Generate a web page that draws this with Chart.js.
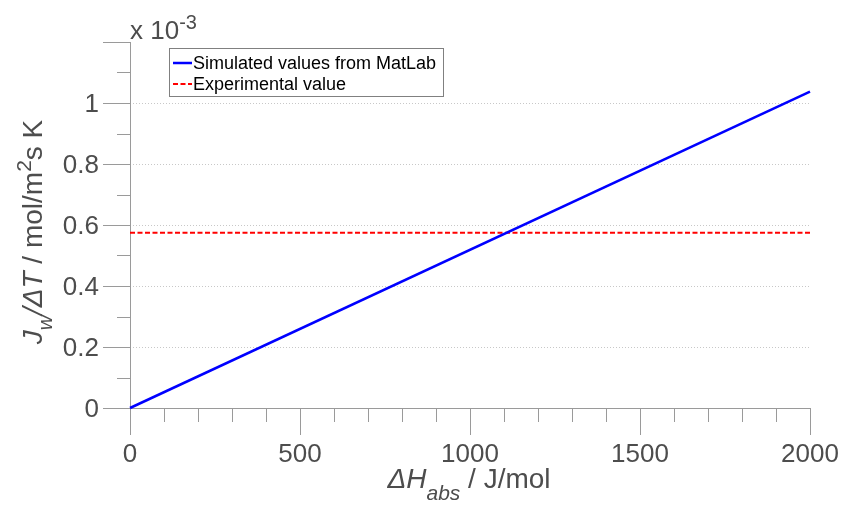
<!DOCTYPE html>
<html>
<head>
<meta charset="utf-8">
<script src="https://cdn.jsdelivr.net/npm/chart.js@4/dist/chart.umd.min.js"></script>
<style>
  html, body { margin: 0; padding: 0; background: #fff; }
  #wrap { width: 843px; height: 505px; }
</style>
</head>
<body>
<div id="wrap"><canvas id="chart" width="843" height="505"></canvas></div>
<script>
// data (y values are in units of 1e-3 mol/m2 s K)
var xValues = [0, 2000];
var simulated = [0, 1.037];
var experimental = [0.575, 0.575];
var xTicks = [0, 500, 1000, 1500, 2000];
var yTicks = [0, 0.2, 0.4, 0.6, 0.8, 1];
var xMinorStep = 100;
var yMinorStep = 0.1;

var FONT = '"Liberation Sans", Arial, sans-serif';
var LABEL_COLOR = '#4d4d4d';
var AXIS_COLOR = '#9a9a9a';

function points(ys) {
    return xValues.map(function(x, i) { return { x: x, y: ys[i] }; });
}

// draw a list of text runs [text, font, dy] starting at x
function drawRuns(ctx, runs, x, y) {
    runs.forEach(function(r) {
        ctx.font = r[1];
        ctx.fillText(r[0], x, y + r[2]);
        x += ctx.measureText(r[0]).width;
    });
}
function runsWidth(ctx, runs) {
    var w = 0;
    runs.forEach(function(r) { ctx.font = r[1]; w += ctx.measureText(r[0]).width; });
    return w;
}

var axesPlugin = {
    id: 'matlabAxes',
    beforeDatasetsDraw: function(chart) {
        var ctx = chart.ctx, a = chart.chartArea;
        var xs = chart.scales.x, ys = chart.scales.y;
        ctx.save();
        ctx.strokeStyle = AXIS_COLOR;
        ctx.lineWidth = 1;
        ctx.beginPath();
        ctx.moveTo(a.left + 0.5, a.top);
        ctx.lineTo(a.left + 0.5, a.bottom + 0.5);
        ctx.lineTo(a.right, a.bottom + 0.5);
        ctx.stroke();

        // x ticks (major + minor), pointing outwards
        for (var v = xs.min; v <= xs.max + 1e-9; v += xMinorStep) {
            var px = Math.round(xs.getPixelForValue(v)) + 0.5;
            var major = xTicks.indexOf(v) >= 0;
            ctx.beginPath();
            ctx.moveTo(px, a.bottom);
            ctx.lineTo(px, a.bottom + (major ? 27 : 14));
            ctx.stroke();
        }
        // y ticks
        for (var k = 0; k * yMinorStep <= ys.max + 1e-9; k++) {
            var val = k * yMinorStep;
            var py = Math.round(ys.getPixelForValue(val)) + 0.5;
            var isMajor = k % 2 === 0;
            ctx.beginPath();
            ctx.moveTo(a.left, py);
            ctx.lineTo(a.left - (isMajor ? 27 : 13), py);
            ctx.stroke();
        }
        ctx.restore();
    },
    afterDraw: function(chart) {
        var ctx = chart.ctx, a = chart.chartArea;
        var xs = chart.scales.x, ys = chart.scales.y;
        ctx.save();
        ctx.fillStyle = LABEL_COLOR;
        ctx.font = '26px ' + FONT;

        // tick labels
        ctx.textAlign = 'center';
        ctx.textBaseline = 'alphabetic';
        xTicks.forEach(function(v) {
            ctx.fillText(String(v), xs.getPixelForValue(v), 462);
        });
        ctx.textAlign = 'right';
        yTicks.forEach(function(v) {
            ctx.fillText(String(v), a.left - 31, ys.getPixelForValue(v) + 9);
        });

        // exponent label
        ctx.textAlign = 'left';
        drawRuns(ctx, [['x 10', '26px ' + FONT, 0], ['-3', '20px ' + FONT, -10]], a.left, 39);

        // x axis title
        var xRuns = [
            ['\u0394H', 'italic 28px ' + FONT, 0],
            ['abs', 'italic 21px ' + FONT, 12],
            [' / J/mol', '28px ' + FONT, 0]
        ];
        var xw = runsWidth(ctx, xRuns);
        drawRuns(ctx, xRuns, 469 - xw / 2, 488);

        // y axis title (rotated)
        var yRuns = [
            ['J', 'italic 28px ' + FONT, 0],
            ['w', 'italic 21px ' + FONT, 10],
            ['/\u0394T', 'italic 28px ' + FONT, 0],
            [' / mol/m', '28px ' + FONT, 0],
            ['2', '21px ' + FONT, -11],
            ['s K', '28px ' + FONT, 0]
        ];
        var yw = runsWidth(ctx, yRuns);
        ctx.save();
        ctx.translate(42, 232);
        ctx.rotate(-Math.PI / 2);
        drawRuns(ctx, yRuns, -yw / 2, 0);
        ctx.restore();

        // legend box
        ctx.fillStyle = '#fff';
        ctx.fillRect(169.5, 48.5, 274, 48);
        ctx.strokeStyle = '#808080';
        ctx.lineWidth = 1;
        ctx.strokeRect(169.5, 48.5, 274, 48);
        var items = chart.data.datasets;
        items.forEach(function(ds, i) {
            var y = 63 + i * 21;
            ctx.strokeStyle = ds.borderColor;
            ctx.lineWidth = ds.borderWidth;
            ctx.setLineDash(ds.borderDash || []);
            ctx.beginPath();
            ctx.moveTo(173, y);
            ctx.lineTo(192, y);
            ctx.stroke();
            ctx.setLineDash([]);
            ctx.fillStyle = '#000';
            ctx.font = '18px ' + FONT;
            ctx.textAlign = 'left';
            ctx.fillText(ds.label, 193, y + 6);
        });
        ctx.restore();
    }
};

new Chart(document.getElementById('chart'), {
    type: 'line',
    data: {
        datasets: [{
            label: 'Simulated values from MatLab',
            data: points(simulated),
            borderColor: '#0000ff',
            borderWidth: 2.5,
            pointRadius: 0,
            fill: false
        }, {
            label: 'Experimental value',
            data: points(experimental),
            borderColor: '#ff0000',
            borderWidth: 2,
            borderDash: [5, 2.5],
            pointRadius: 0,
            fill: false
        }]
    },
    options: {
        responsive: false,
        animation: false,
        clip: false,
        layout: { padding: { left: 130, right: 33, top: 42, bottom: 97 } },
        plugins: { legend: { display: false }, tooltip: { enabled: false } },
        scales: {
            x: {
                type: 'linear',
                min: 0,
                max: 2000,
                ticks: { display: false },
                grid: { display: false, drawTicks: false },
                border: { display: false },
                afterFit: function(s) { s.height = 0; }
            },
            y: {
                type: 'linear',
                min: 0,
                max: 1.2,
                ticks: { display: false, stepSize: 0.2 },
                grid: {
                    drawTicks: false,
                    lineWidth: 1,
                    color: function(c) {
                        var v = c.tick ? c.tick.value : 0;
                        return (v <= 0 || v >= 1.19) ? 'rgba(0,0,0,0)' : '#c8c8c8';
                    }
                },
                border: { display: false, dash: [1, 2] },
                afterFit: function(s) { s.width = 0; }
            }
        }
    },
    plugins: [axesPlugin]
});
</script>
</body>
</html>
